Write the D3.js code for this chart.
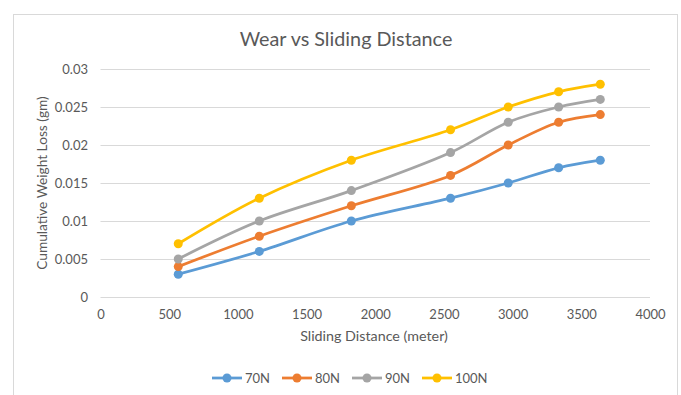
<!DOCTYPE html>
<html>
<head>
<meta charset="utf-8">
<script src="https://cdn.jsdelivr.net/npm/d3@7/dist/d3.min.js"></script>
<style>
  html, body { margin: 0; padding: 0; background: #fff; }
  svg { display: block; font-family: Lato, "Open Sans", sans-serif; }
</style>
</head>
<body>
<svg id="chart" width="681" height="395"></svg>
<script>
// Sliding distance (m) at each measurement
const distances = [566, 1156, 1826, 2548, 2968, 3335, 3638];

// Cumulative weight loss (gm) for each applied load
const seriesNames = ["70N", "80N", "90N", "100N"];
const wear70N  = [0.003, 0.006, 0.010, 0.013, 0.015, 0.017, 0.018];
const wear80N  = [0.004, 0.008, 0.012, 0.016, 0.020, 0.023, 0.024];
const wear90N  = [0.005, 0.010, 0.014, 0.019, 0.023, 0.025, 0.026];
const wear100N = [0.007, 0.013, 0.018, 0.022, 0.025, 0.027, 0.028];
const seriesColors = ["#5B9BD5", "#ED7D31", "#A5A5A5", "#FFC000"];

const xTicks = [0, 500, 1000, 1500, 2000, 2500, 3000, 3500, 4000];
const yTicks = [0, 0.005, 0.01, 0.015, 0.02, 0.025, 0.03];

const series = [wear70N, wear80N, wear90N, wear100N].map((vals, i) => ({
  name: seriesNames[i],
  color: seriesColors[i],
  points: vals.map((v, j) => ({ x: distances[j], y: v }))
}));

const svg = d3.select("#chart");
const textColor = "#595959";

// chart frame
svg.append("rect")
  .attr("x", 13.5).attr("y", 14.5)
  .attr("width", 664).attr("height", 390)
  .attr("fill", "#fff").attr("stroke", "#d9d9d9").attr("stroke-width", 1);

const x = d3.scaleLinear().domain([0, 4000]).range([100.5, 650]);
const y = d3.scaleLinear().domain([0, 0.03]).range([297, 69]);

// horizontal gridlines
svg.append("g")
  .selectAll("line")
  .data(yTicks)
  .join("line")
  .attr("x1", x(0)).attr("x2", x(4000))
  .attr("y1", d => Math.round(y(d)) + 0.5)
  .attr("y2", d => Math.round(y(d)) + 0.5)
  .attr("stroke", "#d9d9d9").attr("stroke-width", 1);

// y axis labels
const yAxis = d3.axisLeft(y).tickValues(yTicks).tickSize(0).tickPadding(0)
  .tickFormat(d => d3.format("")(+d.toFixed(3)));
svg.append("g")
  .attr("transform", "translate(88,0)")
  .call(yAxis)
  .call(g => g.select(".domain").remove())
  .call(g => g.selectAll("text")
    .attr("fill", textColor).attr("font-size", 13)
    .attr("font-family", "Lato, 'Open Sans', sans-serif"));

// x axis labels
const xAxis = d3.axisBottom(x).tickValues(xTicks).tickSize(0).tickPadding(0)
  .tickFormat(d3.format("d"));
svg.append("g")
  .attr("transform", "translate(0,310)")
  .call(xAxis)
  .call(g => g.select(".domain").remove())
  .call(g => g.selectAll("text")
    .attr("fill", textColor).attr("font-size", 13)
    .attr("font-family", "Lato, 'Open Sans', sans-serif"));

// title
svg.append("text")
  .attr("x", 346).attr("y", 46)
  .attr("text-anchor", "middle")
  .attr("fill", textColor).attr("font-size", 19.8)
  .text("Wear vs Sliding Distance");

// axis titles
svg.append("text")
  .attr("x", 374).attr("y", 341)
  .attr("text-anchor", "middle")
  .attr("fill", textColor).attr("font-size", 14.3)
  .text("Sliding Distance (meter)");

svg.append("text")
  .attr("transform", "translate(47,183) rotate(-90)")
  .attr("text-anchor", "middle")
  .attr("fill", textColor).attr("font-size", 13.7)
  .text("Cumulative Weight Loss (gm)");

// series lines and markers
const line = d3.line()
  .x(d => x(d.x)).y(d => y(d.y))
  .curve(d3.curveCatmullRom.alpha(0.5));

const plot = svg.append("g");
series.forEach(s => {
  plot.append("path")
    .attr("d", line(s.points))
    .attr("fill", "none")
    .attr("stroke", s.color)
    .attr("stroke-width", 2.75)
    .attr("stroke-linecap", "round");
});
series.forEach(s => {
  plot.append("g")
    .selectAll("circle")
    .data(s.points)
    .join("circle")
    .attr("cx", d => x(d.x)).attr("cy", d => y(d.y))
    .attr("r", 4.5)
    .attr("fill", s.color);
});

// legend
const legend = svg.append("g").attr("transform", "translate(212,378)");
const items = legend.selectAll("g")
  .data(series)
  .join("g")
  .attr("transform", (d, i) => `translate(${i * 70},0)`);
items.append("line")
  .attr("x1", 0).attr("x2", 30).attr("y1", 0).attr("y2", 0)
  .attr("stroke", d => d.color).attr("stroke-width", 2.75);
items.append("circle")
  .attr("cx", 15).attr("cy", 0).attr("r", 4.5)
  .attr("fill", d => d.color);
items.append("text")
  .attr("x", 33).attr("y", 0).attr("dy", "0.35em")
  .attr("fill", textColor).attr("font-size", 13)
  .text(d => d.name);
</script>
</body>
</html>
